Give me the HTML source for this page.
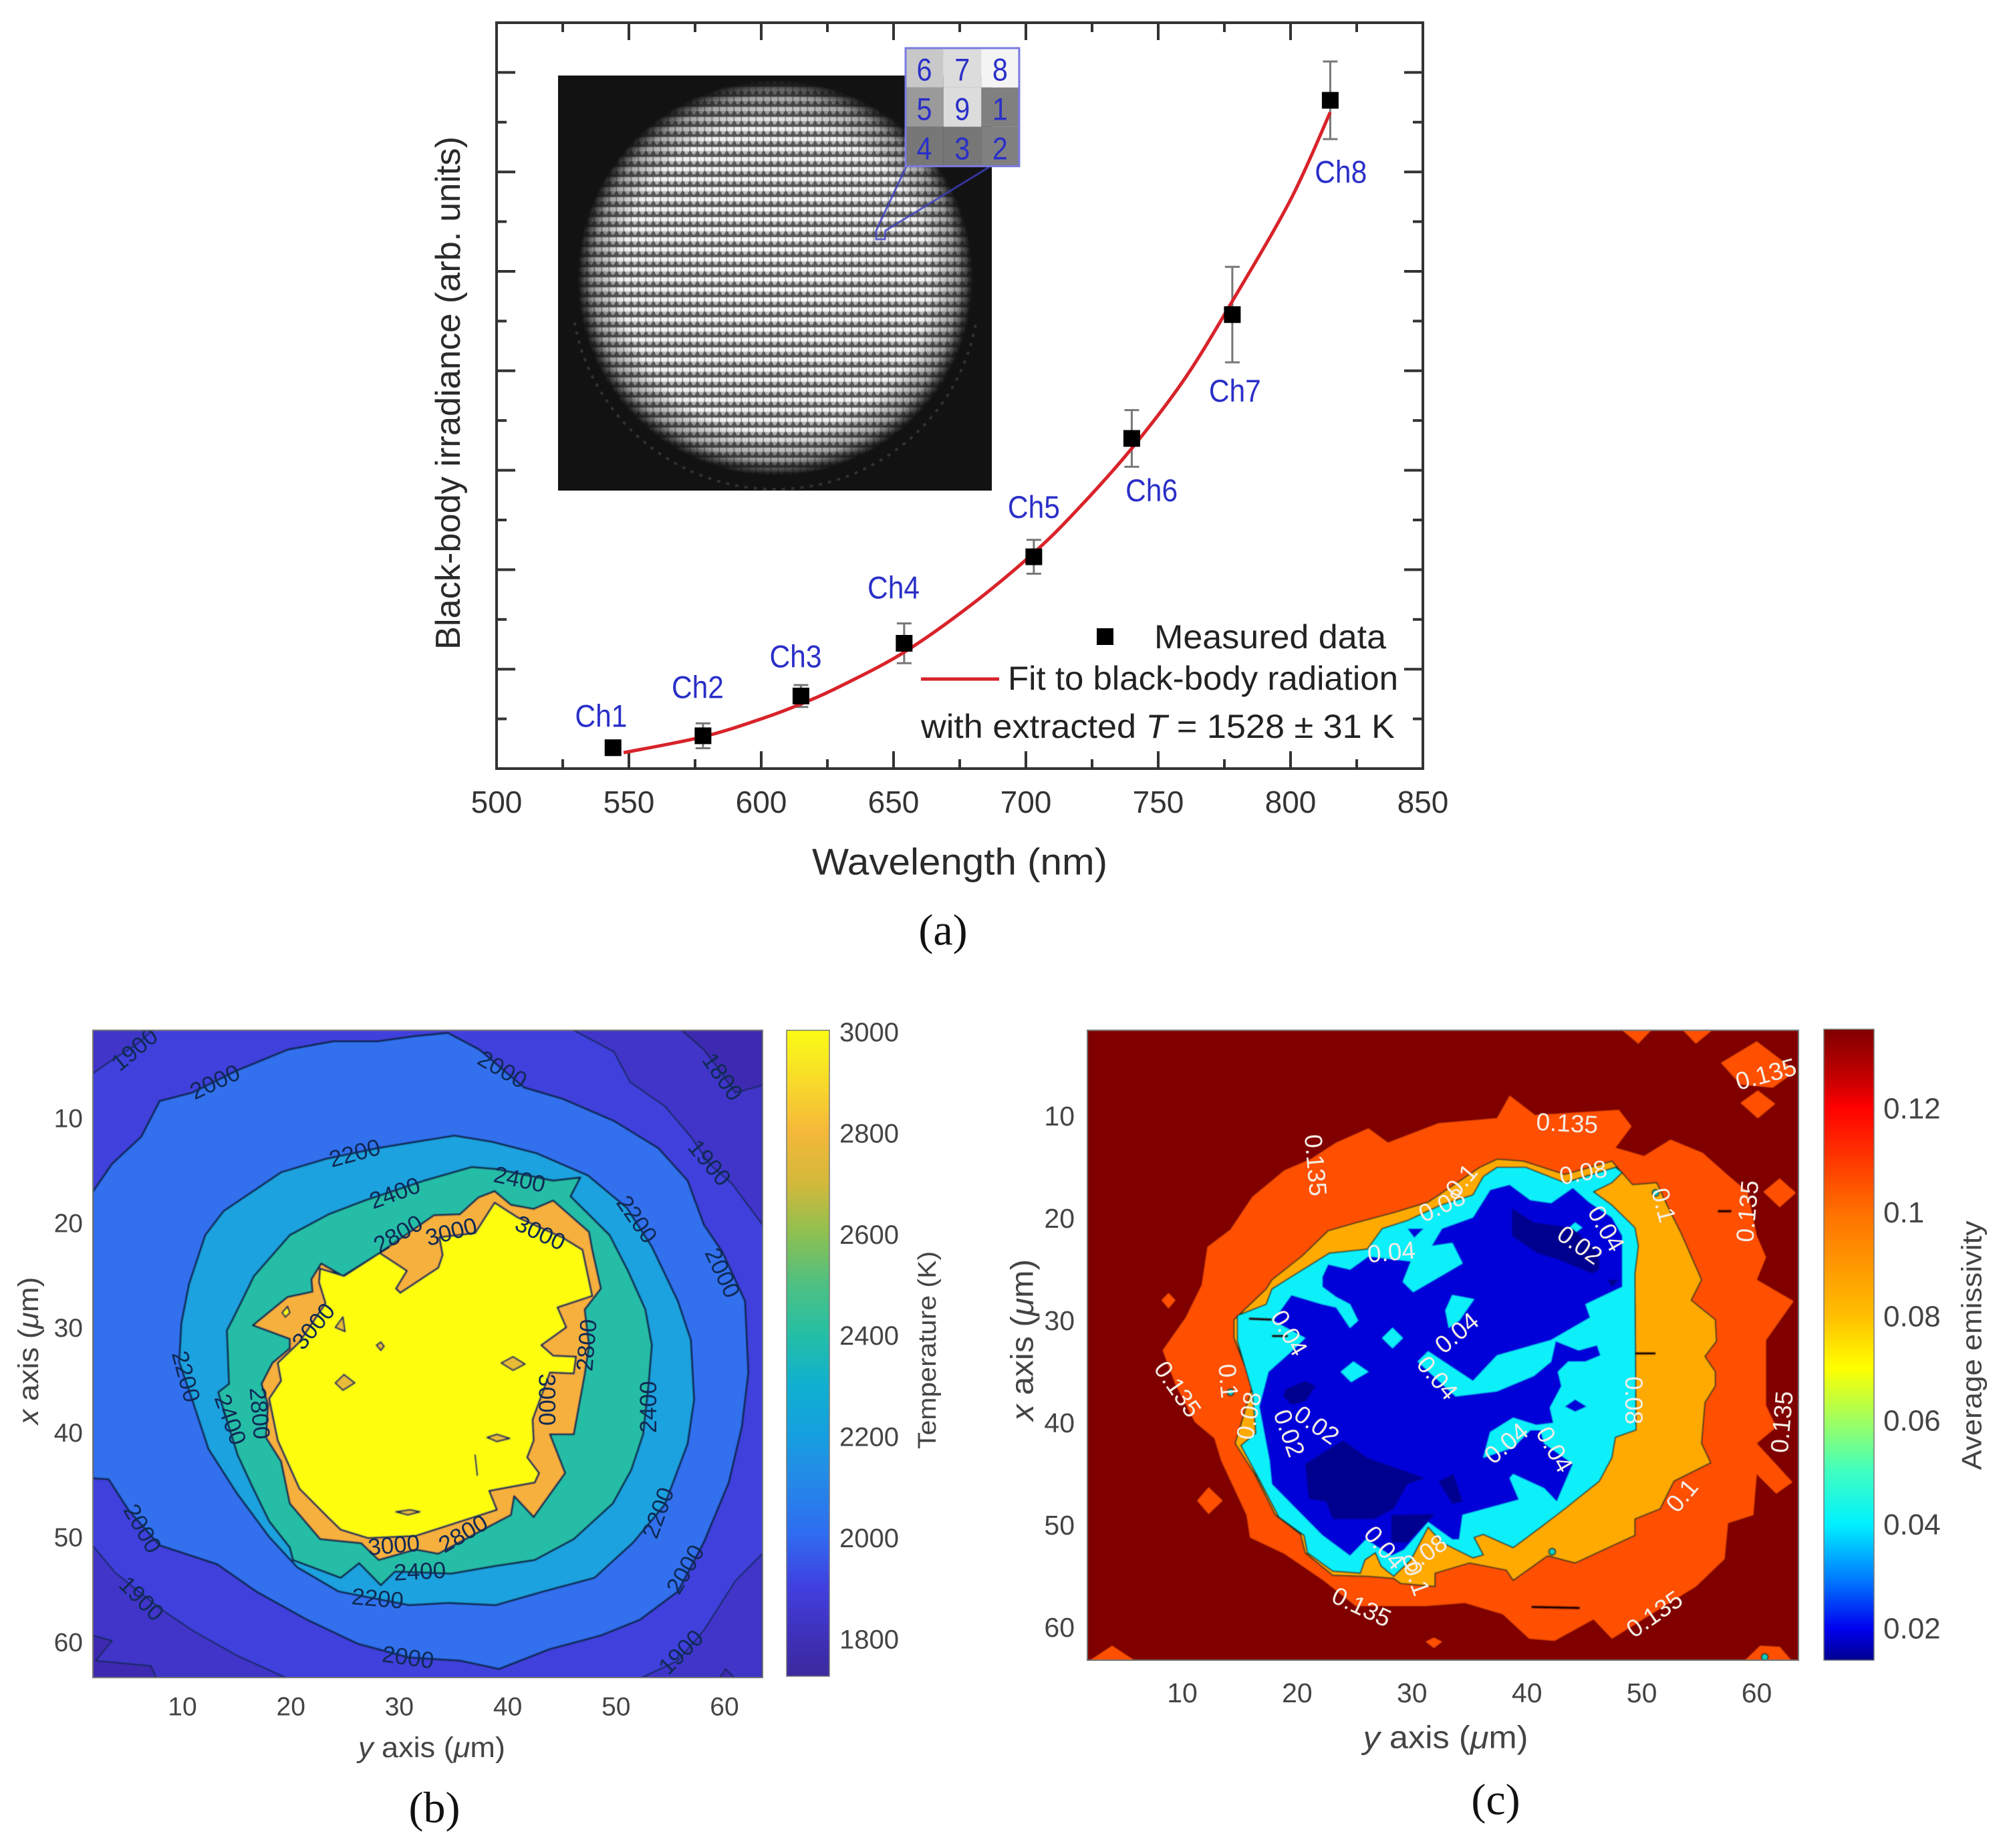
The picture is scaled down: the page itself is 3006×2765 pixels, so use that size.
<!DOCTYPE html>
<html lang="en">
<head>
<meta charset="utf-8">
<title>Black-body irradiance, temperature and emissivity maps</title>
<style>
html,body{margin:0;padding:0;background:#fff;width:3006px;height:2765px;overflow:hidden}
svg{display:block}
text{font-family:"Liberation Sans",Arial,sans-serif}
.serif{font-family:"Liberation Serif",serif}
</style>
</head>
<body>
<svg id="root" xmlns="http://www.w3.org/2000/svg" width="3006" height="2765" viewBox="0 0 3006 2765">
<defs>
  <pattern id="lensletPattern" width="11" height="15" patternUnits="userSpaceOnUse" x="835" y="113">
    <rect width="11" height="15" fill="#5a5a5a"/>
    <rect x="0" y="2" width="11" height="6" fill="#7a7a7a"/>
    <rect x="0" y="2" width="9.5" height="6" fill="#ffffff"/>
    <path d="M1 8 L9.5 8 L6.5 13 L3.5 13 Z" fill="#c0c0c0"/>
  </pattern>
  <filter id="softBlur" x="-5%" y="-5%" width="110%" height="110%"><feGaussianBlur stdDeviation="0.6"/></filter>
  <filter id="lineBlur" x="-2%" y="-2%" width="104%" height="104%"><feGaussianBlur stdDeviation="0.7"/></filter>
  <radialGradient id="spotFade" cx="1160" cy="416" r="296" gradientUnits="userSpaceOnUse">
    <stop offset="0" stop-color="#fff"/>
    <stop offset="0.78" stop-color="#f0f0f0"/>
    <stop offset="0.92" stop-color="#999"/>
    <stop offset="1" stop-color="#000"/>
  </radialGradient>
  <mask id="spotMask" maskUnits="userSpaceOnUse" x="835" y="113" width="649" height="621">
    <rect x="835" y="113" width="649" height="621" fill="url(#spotFade)"/>
  </mask>
  <clipPath id="ringClip"><rect x="835" y="480" width="649" height="254"/></clipPath>
  <clipPath id="clipB"><rect x="139" y="1541.5" width="1002" height="968.5"/></clipPath>
  <clipPath id="clipC"><rect x="1627" y="1541.5" width="1064" height="942.5"/></clipPath>
  <linearGradient id="parulaBar" x1="0" y1="0" x2="0" y2="1">
    <stop offset="0" stop-color="#f9fb15"/><stop offset="0.08" stop-color="#f8da2a"/>
    <stop offset="0.157" stop-color="#f5b83a"/><stop offset="0.235" stop-color="#d4b83a"/>
    <stop offset="0.313" stop-color="#90c050"/><stop offset="0.39" stop-color="#50c080"/>
    <stop offset="0.47" stop-color="#25bfa5"/><stop offset="0.548" stop-color="#10b0cf"/>
    <stop offset="0.626" stop-color="#169fdf"/><stop offset="0.7" stop-color="#2588e8"/>
    <stop offset="0.78" stop-color="#2f6cf0"/><stop offset="0.86" stop-color="#4040e0"/>
    <stop offset="0.94" stop-color="#3f30b8"/><stop offset="1" stop-color="#3b2a9e"/>
  </linearGradient>
  <linearGradient id="jetBar" x1="0" y1="0" x2="0" y2="1">
    <stop offset="0" stop-color="#800000"/><stop offset="0.08" stop-color="#c80000"/>
    <stop offset="0.124" stop-color="#ff0000"/><stop offset="0.29" stop-color="#ff7000"/>
    <stop offset="0.455" stop-color="#ffbf00"/><stop offset="0.537" stop-color="#ffff00"/>
    <stop offset="0.62" stop-color="#a0ff60"/><stop offset="0.7" stop-color="#40ffc0"/>
    <stop offset="0.785" stop-color="#00f0ff"/><stop offset="0.868" stop-color="#0080ff"/>
    <stop offset="0.95" stop-color="#0000f0"/><stop offset="1" stop-color="#000090"/>
  </linearGradient>
</defs>

<g id="panelA">
  <rect x="743" y="34" width="1386" height="1116" fill="#fff"/>
  <g id="aTicks"></g>
  <g>
    <rect x="835" y="113" width="649" height="621" fill="#121212"/>
    <ellipse cx="1160" cy="430" rx="305" ry="302" fill="none" stroke="#777" stroke-width="4" stroke-dasharray="5 9" opacity="0.3" clip-path="url(#ringClip)"/>
    <rect x="835" y="113" width="649" height="621" fill="url(#lensletPattern)" mask="url(#spotMask)" filter="url(#softBlur)"/>
    <path d="M1357 247 L1311 345 L1311 358 L1324 358 L1325 345 L1480 250" fill="none" stroke="#3d3dc0" stroke-width="3" opacity="0.8"/>
    <g id="pixelGrid"></g>
  </g>
  <rect x="743" y="34" width="1386" height="1116" fill="none" stroke="#333" stroke-width="4"/>
  <g id="aMarks"></g>
  <g id="aLabels"></g>
  <text x="1436" y="1289" font-size="56" fill="#2a2a2a" text-anchor="middle" dominant-baseline="central" textLength="442" lengthAdjust="spacingAndGlyphs">Wavelength (nm)</text>
  <text transform="translate(671 588) rotate(-90)" font-size="52" fill="#2a2a2a" text-anchor="middle" dominant-baseline="central" textLength="768" lengthAdjust="spacingAndGlyphs">Black-body irradiance (arb. units)</text>
  <g>
    <rect x="1641" y="940" width="25" height="25" fill="#000"/>
    <text x="1727" y="953" font-size="50" fill="#222" dominant-baseline="central" textLength="347" lengthAdjust="spacingAndGlyphs">Measured data</text>
    <line x1="1378" y1="1016" x2="1495" y2="1016" stroke="#d8232a" stroke-width="5"/>
    <text x="1508" y="1015" font-size="50" fill="#222" dominant-baseline="central" textLength="584" lengthAdjust="spacingAndGlyphs">Fit to black-body radiation</text>
    <text x="1378" y="1087" font-size="50" fill="#222" dominant-baseline="central" textLength="709" lengthAdjust="spacingAndGlyphs">with extracted <tspan font-style="italic">T</tspan> = 1528 ± 31 K</text>
  </g>
  <text class="serif" x="1411" y="1392" font-size="66" fill="#111" text-anchor="middle" dominant-baseline="central">(a)</text>
</g>

<g id="panelB">
  <g clip-path="url(#clipB)"><g id="bFills"></g><g id="bLabels"></g></g>
  <rect x="139" y="1541.5" width="1002" height="968.5" fill="none" stroke="#777" stroke-width="2"/>
  <g id="bTicks"></g>
  <text x="646" y="2615" font-size="43" fill="#444" text-anchor="middle" dominant-baseline="central" textLength="220" lengthAdjust="spacingAndGlyphs"><tspan font-style="italic">y</tspan> axis (<tspan font-style="italic">μ</tspan>m)</text>
  <text transform="translate(43 2021) rotate(-90)" font-size="43" fill="#444" text-anchor="middle" dominant-baseline="central" textLength="221" lengthAdjust="spacingAndGlyphs"><tspan font-style="italic">x</tspan> axis (<tspan font-style="italic">μ</tspan>m)</text>
  <rect x="1177" y="1541.5" width="64" height="966.5" fill="url(#parulaBar)" stroke="#777" stroke-width="1.5"/>
  <g id="bBarLabels"></g>
  <text transform="translate(1388 2020) rotate(-90)" font-size="38" fill="#444" text-anchor="middle" dominant-baseline="central" textLength="296" lengthAdjust="spacingAndGlyphs">Temperature (K)</text>
  <text class="serif" x="650" y="2705" font-size="66" fill="#111" text-anchor="middle" dominant-baseline="central">(b)</text>
</g>

<g id="panelC">
  <g clip-path="url(#clipC)"><g id="cFills"></g><g id="cLabels"></g></g>
  <rect x="1627" y="1541.5" width="1064" height="942.5" fill="none" stroke="#777" stroke-width="2"/>
  <g id="cTicks"></g>
  <text x="2163" y="2599" font-size="47" fill="#444" text-anchor="middle" dominant-baseline="central" textLength="247" lengthAdjust="spacingAndGlyphs"><tspan font-style="italic">y</tspan> axis (<tspan font-style="italic">μ</tspan>m)</text>
  <text transform="translate(1529 2005) rotate(-90)" font-size="47" fill="#444" text-anchor="middle" dominant-baseline="central" textLength="242" lengthAdjust="spacingAndGlyphs"><tspan font-style="italic">x</tspan> axis (<tspan font-style="italic">μ</tspan>m)</text>
  <rect x="2729" y="1540" width="75" height="944" fill="url(#jetBar)" stroke="#777" stroke-width="1.5"/>
  <g id="cBarLabels"></g>
  <text transform="translate(2950 2013) rotate(-90)" font-size="42" fill="#444" text-anchor="middle" dominant-baseline="central" textLength="373" lengthAdjust="spacingAndGlyphs">Average emissivity</text>
  <text class="serif" x="2238" y="2693" font-size="66" fill="#111" text-anchor="middle" dominant-baseline="central">(c)</text>
</g>
</svg>

<script>
/* ---------- Panel (a) data ---------- */
const wavelengths = [544, 578, 615, 654, 703, 740, 778, 815];
const irradiance = [0.21, 0.33, 0.73, 1.26, 2.13, 3.32, 4.565, 6.72];
const irradianceError = [0.05, 0.125, 0.11, 0.2, 0.17, 0.285, 0.48, 0.39];
const channelNames = ['Ch1', 'Ch2', 'Ch3', 'Ch4', 'Ch5', 'Ch6', 'Ch7', 'Ch8'];
const channelLabelWave = [539.5, 576, 613, 650, 703, 747.5, 779, 819];
const channelLabelValue = [0.53, 0.82, 1.13, 1.82, 2.63, 2.8, 3.8, 6.0];
const fitWave = [548, 578, 600, 615, 630, 654, 680, 703, 720, 740, 760, 778, 800, 815];
const fitValue = [0.16, 0.32, 0.5, 0.65, 0.83, 1.17, 1.66, 2.17, 2.62, 3.22, 3.92, 4.7, 5.72, 6.6];
const waveTicks = [500, 550, 600, 650, 700, 750, 800, 850];
const waveMinorTicks = [525, 575, 625, 675, 725, 775, 825];
const irradianceTicks = [1, 2, 3, 4, 5, 6, 7];
const irradianceMinorTicks = [0.5, 1.5, 2.5, 3.5, 4.5, 5.5, 6.5];
const pixelOrder = ['6', '7', '8', '5', '9', '1', '4', '3', '2'];
const pixelGray = [200, 220, 244, 154, 220, 128, 119, 119, 128];

/* ---------- Panel (b) data: [y-axis um, x-axis um] ---------- */
const axisTicksUm = [10, 20, 30, 40, 50, 60];
const tempBarTicks = [3000, 2800, 2600, 2400, 2200, 2000, 1800];
const temp1900Corners = [
  [[1.7,5.7],[3.5,4.4],[5.9,2.8],[7.3,1.5],[1.7,1.5]],
  [[46,1.5],[49.8,3.6],[51.3,6.5],[54.5,8.8],[56.9,11.7],[58.6,14.3],[60.7,16.2],[63.5,20.1],[63.5,1.5]],
  [[1.7,50.7],[3.8,53.3],[7.9,56.7],[10.9,58.8],[15,61.2],[19.7,63.4],[1.7,63.4]],
  [[52.2,63.4],[55.7,61.7],[58.1,58.8],[61,54.1],[63.5,51.5],[63.5,63.4]]
];
const temp1800Corners = [
  [[56,1.5],[58.1,3.4],[59.2,4.9],[61,7.5],[63.5,6.8],[63.5,1.5]],
  [[1.7,59.3],[3.5,59.8],[2,61.7],[7.1,62.2],[7.6,63.4],[1.7,63.4]],
  [[59.5,63.4],[60.1,62.5],[61,63.4]]
];
const temp2000 = [[1.7,17],[3.5,14.3],[6.2,11.7],[7.9,8.3],[10.9,7.5],[15,5.4],[19.7,3.4],[23.9,2.6],[28,2.6],[31.5,2.1],[34.5,1.8],[37.4,3.4],[41.5,7],[45.1,8.1],[49.8,10.2],[53.9,12.8],[56.6,15.9],[58.1,20.1],[59.8,22.7],[61.9,27.4],[62.2,34.2],[61.6,39.4],[60.4,44.7],[58.1,50.4],[55.7,55.1],[52.2,57.8],[48.6,59.3],[43.9,60.6],[39.2,62.5],[35.6,61.7],[30.9,61.4],[26.2,60.1],[21.5,57.8],[16.8,55.1],[13.2,52.5],[7.9,50.7],[5,47.3],[3.2,44.4],[1.7,44.3]];
const temp2200 = [[23.3,13.8],[19.1,15.1],[13.8,18.8],[12.1,21.1],[10.6,25.8],[9.9,29.5],[9.7,33.2],[10.9,36.8],[12.4,41.5],[15,45.7],[18,49.9],[20.6,52.8],[24.4,55.1],[30.9,56.4],[34.5,56.2],[38.9,56.4],[43.3,55.1],[48,53.8],[51.6,50.4],[54.5,46.8],[56.6,41],[57.2,36.8],[56.9,31.1],[55.7,27.4],[53.3,22.2],[51,18.5],[47.4,15.4],[42.7,13.3],[38.6,12.2],[35.1,11.6],[31.5,12.2],[28,12.8]];
const temp2400 = [[26.8,17.8],[23.5,19.1],[19.9,21.1],[16.6,25],[14.7,29],[14.1,30.2],[14.3,35.3],[13.3,36.1],[15.1,42.1],[16.4,45],[18,48.4],[19.9,50.9],[20.2,52.1],[24.6,53.8],[26.3,52.4],[28.3,54.5],[29.6,53.2],[34.8,53.4],[38.7,52.7],[42.5,52.1],[46.1,50.1],[49.7,46.7],[51.4,43.5],[52.5,40.1],[53,35.3],[53.3,31.6],[52.7,28.2],[51.1,24.5],[49.4,21.1],[45.8,17.4],[46.7,15.6],[44.2,15.9],[39,14.8],[36.7,14.6],[32.3,15.9]];
const temp2800 = [[38.8,16.9],[37.3,17.5],[35.6,19.1],[33.2,19.2],[28.2,22.8],[24.8,25],[22.8,23.8],[21.9,25.3],[22,26.5],[19.7,27],[16.5,29.7],[19.9,31],[19.9,31.9],[18.3,33.3],[17.3,35.3],[17.9,37.3],[17.7,40.4],[19.1,42.7],[19.9,46.7],[22.7,50.1],[26.5,50.5],[28.1,52.1],[31.5,51.1],[33.6,51.5],[38.1,49],[40.3,47.8],[40.6,46],[42.4,48],[45.3,43.8],[43.9,40.1],[46.1,40.1],[47.1,34.4],[47.5,31.6],[47.1,28.2],[48.6,26.2],[47.8,22.5],[47.5,20.8],[44.2,17.8],[42.4,18.6],[40.3,18.2]];
const temp3000 = [[38.8,18],[37,20.9],[33.7,21.3],[34,23],[33.6,24.2],[30.1,26.6],[29.7,26.2],[30.7,24.5],[28.2,22.8],[24.9,25],[22.7,24.3],[22.6,25.6],[23.2,27.6],[20.8,31.3],[18.8,33.3],[19.1,35],[18,36.7],[18.8,40.7],[20.8,45.3],[23.5,48.1],[24.6,49.2],[27.1,50],[31.5,49.8],[39,47.3],[38.3,45.5],[42.5,44.7],[42.9,43.8],[41.8,42.3],[42.4,40.7],[42.3,38.7],[43.9,34.2],[46.1,34.3],[46.3,32.7],[44.2,32.6],[43.1,31.6],[45.4,29.9],[44.6,28],[47.8,26.9],[46.9,22.5],[45,21.3],[40.9,19.4]];
const temp2800Islands = [
  [[39.4,33.3],[40.5,32.7],[41.6,33.4],[40.5,34]],
  [[24.1,35.2],[24.9,34.4],[25.9,35.2],[24.8,35.9]],
  [[38.1,40.4],[39,40.1],[40.2,40.5],[39,40.8]],
  [[29.7,47.5],[31,47.3],[31.9,47.5],[30.8,47.8]],
  [[24.1,29.9],[24.8,28.9],[25,30.3]],
  [[27.9,31.6],[28.3,31.3],[28.6,31.7],[28.3,32.1]],
  [[37,42.1],[37.2,44],[37,42.1]]
];
const temp3000Islands = [[[19.2,28.5],[19.7,27.9],[19.9,28.5],[19.5,28.9]]];
const tempContourLabels = [
  ['1900',5.6,3.4,-40],['2000',13,6.5,-25],['2000',39.5,5.3,30],['1800',59.8,6,55],['1900',58.6,14.2,50],
  ['2200',25.9,13.3,-15],['2400',29.6,17.1,-20],['2400',41.1,15.8,12],['2200',51.9,19.6,55],['2000',59.8,24.7,65],
  ['2800',29.9,21,-30],['3000',34.8,20.8,-15],['3000',43,20.9,25],['3000',22.1,29.8,-50],['2800',47.3,31.6,-85],
  ['3000',43.6,36.8,90],['2200',10.3,34.6,75],['2400',14.4,38.7,70],['2800',17.1,38.1,85],['2400',53,37.5,-90],
  ['2200',53.9,47.6,-70],['2000',56.4,53,-60],['1900',56,60.9,-45],['2000',30.8,61.4,8],['2200',28,55.8,5],
  ['2400',31.9,53.2,-3],['3000',29.5,50.7,-5],['2800',35.9,49.6,-30],['2000',6.3,49.1,60],['1900',6.2,55.8,45]
];

/* ---------- Panel (c) data: [y-axis um, x-axis um] ---------- */
const emisBarTicks = ['0.12', '0.1', '0.08', '0.06', '0.04', '0.02'];
const emis0135 = [[38.5,8],[40.7,9.9],[48,9.4],[49.1,11],[47.7,13.1],[50.2,13.9],[52.5,12.3],[55.3,13.6],[57.5,15.8],[59.2,17.4],[60,21.7],[60.8,23.8],[60,26],[63.2,28.1],[62,30],[60.8,31.9],[60.8,38.3],[61.7,40.4],[60,42],[63.1,45.8],[61.7,46.9],[60,45],[59.7,49],[57.5,49.8],[57.2,53.3],[54.7,56],[50.8,58.7],[47.4,61.1],[45.8,59.2],[42.4,61.3],[40.2,61.1],[37.9,58.7],[34.6,57.6],[31.2,57.9],[25.1,57.9],[22.3,55.4],[18.9,52.8],[15.9,51.2],[15.6,49],[13.4,43.7],[12.8,41.5],[11.1,39.9],[9.4,36.2],[8.3,32.9],[10.3,29.7],[11.7,26.5],[12.2,22.8],[14.2,21.1],[16.1,17.9],[18.9,15.3],[21.2,14.2],[23.4,12.6],[26.2,11.2],[27.9,12.6],[32.3,10.7],[37.4,10.2]];
const emis0135Islands = [
  [[48.3,1.6],[49.7,2.9],[50.8,1.6]],
  [[53.6,1.6],[54.7,2.9],[56.1,1.6]],
  [[56.9,4.8],[60,2.7],[63.4,5.6],[61.4,7.2],[58.6,6.9]],
  [[58.6,8.7],[60.1,7.5],[61.6,8.8],[60.1,10.2]],
  [[60.6,17.4],[62,16.1],[63.4,17.5],[62,18.9]],
  [[8.2,28],[8.8,27.3],[9.4,28],[8.8,28.8]],
  [[11.3,47.6],[12.3,46.3],[13.5,47.6],[12.3,48.9]],
  [[2,63.2],[3.9,61.8],[5.8,63.2]],
  [[31.2,61.4],[31.9,61],[32.6,61.4],[31.9,62]],
  [[59,63.2],[60.3,61.8],[62,61.9],[63,63.2]]
];
const emis01 = [[14.5,29.9],[17.3,26.9],[17.8,26],[20.4,23.7],[22.7,21.2],[25.2,20.4],[28.5,19.4],[31.4,18.4],[35.9,15],[37.4,14.2],[39.7,14.4],[43.3,15.7],[47.4,14.4],[49.2,16.7],[51.3,16.5],[52.2,18.7],[53.4,21.4],[55.2,26],[54.3,28],[56.4,29.9],[56.5,32],[55.5,33.5],[56.4,35],[56.4,36.4],[55.5,38],[55.2,42],[56,43.9],[52.8,45.7],[51.6,48.4],[49.4,49.4],[49.4,51],[46.7,52.4],[44.2,53.7],[41.8,53],[38.8,55.4],[38.2,54.4],[35,53.7],[32,54.7],[32,56],[29,55.7],[28.4,55.2],[26.1,55],[23.1,54.9],[20.7,52.7],[20.3,50.9],[18.1,49],[16.3,45],[14.6,42],[16.1,36.4],[14.5,31.7]];
const emis008 = [[14.8,29.5],[17.3,28.4],[17.8,26.9],[19.5,25.7],[22.8,23.4],[26.1,23],[27.4,21],[29.6,20.2],[32.5,18.7],[35.3,17.7],[36.2,15.9],[37.4,15],[39.9,15],[43.3,16.5],[47.7,15],[48.3,15.5],[47.4,16.5],[45.8,17.4],[47.4,18.7],[49.4,20.9],[49.7,22.7],[49.4,25.4],[49.5,40.7],[47.7,41.4],[47.4,43.4],[46.3,45.7],[43.3,48.4],[41.2,50.2],[38.8,52.2],[36.2,50.9],[35.4,51.2],[36.2,52.9],[35.3,53.2],[32.6,51.7],[31.4,50.2],[29.9,53.4],[28.4,55],[27.3,54],[26.8,52.7],[25.9,53.4],[25.5,54.7],[23.1,54.5],[20.9,52.7],[20.6,51],[18.4,49.2],[16.4,44.9],[15.1,42.2],[16.4,41],[16.1,37],[14.8,32]];
const emis004 = [[17.6,43.7],[16.7,38.4],[17.5,35],[19.5,33],[20.7,31.7],[17.9,30],[19.5,27.5],[22.2,28.4],[23.4,28.7],[24.6,30.7],[25.3,30],[24.6,28.4],[23.4,27.7],[22.2,26.7],[22.2,25.7],[22.7,24.5],[24.6,25],[26.2,23.7],[29.9,24.2],[29.2,26.2],[30.1,27.2],[34.4,24.4],[33.5,22.4],[31.7,22.7],[32.6,21],[35.3,19.9],[36.8,17.2],[38.5,16.7],[40.3,18.2],[42.1,18.5],[44,17],[45.4,18.4],[47.4,19.9],[48.3,21.7],[48.3,24.4],[48.3,26.7],[45.1,28.4],[45.5,29.7],[42.1,31.9],[37.4,33.4],[35.3,35.9],[31.4,33],[30.5,34],[33.8,37.4],[37.4,36.9],[40.6,35.4],[42.1,34],[42.5,32],[44.5,32.9],[46.1,32.4],[46.4,33.4],[45.1,34],[43.6,34],[42.7,35],[43,36.4],[42,38.5],[42.3,40],[40.8,40.2],[38.8,39.5],[36.8,40.9],[36.2,43.4],[38.8,42.4],[40.3,40.7],[41.2,40.7],[41.5,42],[44,44],[42.6,47.7],[41.5,46.4],[38.8,45],[38.5,45.4],[39.3,47.5],[34.4,49],[34.1,51.4],[33.5,51.4],[31.4,49.7],[29.3,52.4],[28.2,53],[26,51.4],[24.6,53],[22.2,51],[17.8,46]];
const emisCyanIslands = [
  [[27.4,31.7],[28.3,30.7],[29.2,31.7],[28.3,32.7]],
  [[23.8,35],[24.9,34],[26.2,35],[24.7,36]],
  [[33.5,27.5],[35.4,27.9],[34.1,30],[33.2,30.7],[32.9,29]],
  [[43.7,20.9],[44.2,20.4],[44.8,20.9],[44.2,21.4]]
];
const emisBlueIslands = [
  [[43.3,38.4],[44.2,37.7],[45.2,38.4],[44.2,38.9]],
  [[29.6,21],[31,21],[30.2,21.9]]
];
const emisNavy = [
  [[38.7,19],[40.6,20.4],[42.7,20.7],[44,21],[46.3,23.4],[46.3,25],[45.7,25.4],[42.7,24],[40.9,23.4],[38.7,21.7]],
  [[19,36.7],[20.7,35.9],[21.6,36.4],[20.7,37.9],[19.5,38.2],[18.8,37.4]],
  [[20.7,44],[24,41.7],[26.1,43.4],[31.1,45.4],[29.6,46],[28.4,48.4],[26.7,49.4],[23.1,49.4],[22.5,47.7],[21,47.4]],
  [[32.3,45.7],[33.6,45],[34.4,47.7],[33.5,47.9]],
  [[28.2,49],[32,48.9],[29.6,51.7],[28.2,51.7]],
  [[47,26],[48,26],[47.4,26.7]]
];
const emisSlivers = [
  [[40.4,58],[44.6,58.1]], [[56.6,19.3],[57.8,19.3]], [[49.4,33.2],[51.2,33.2]],
  [[15.8,29.8],[17.8,29.9]], [[17.8,31.5],[19.2,31.5]]
];
const emisSpots = [[51.2,17.5],[14.2,37],[42.2,52.6],[60.7,62.9]];
const emisContourLabels = [
  ['0.135',60.8,5.9,-15],['0.135',43.5,10.7,3],['0.135',21.6,14.8,85],['0.1',34.3,16.3,-50],['0.08',44.9,15.5,-10],
  ['0.135',59.2,19.3,-85],['0.08',32.6,18.7,-25],['0.04',28.2,23.3,-5],['0.04',46.9,21,60],['0.02',44.6,22.6,35],
  ['0.1',51.9,18.7,75],['0.04',33.9,31.2,-40],['0.04',19.3,31.2,60],['0.135',9.6,36.7,55],['0.04',32.2,35.6,50],
  ['0.1',14,35.9,85],['0.08',15.8,39.3,-80],['0.02',21.7,40.2,35],['0.02',19.3,41,70],['0.08',49.3,37.8,90],
  ['0.04',38.2,42,-40],['0.04',42.4,42.6,60],['0.135',62.2,39.9,-85],['0.1',53.5,47.1,-50],['0.04',27.6,52.2,50],
  ['0.08',31.1,52.8,-35],['0.1',30.4,55.2,70],['0.135',25.6,58,25],['0.135',51.1,58.7,-35]
];

/* ---------- Helpers and axis functions ---------- */
const NS = 'http://www.w3.org/2000/svg';
function make(tag, attrs, parent) {
  const el = document.createElementNS(NS, tag);
  Object.keys(attrs).forEach(function (k) { el.setAttribute(k, attrs[k]); });
  parent.appendChild(el);
  return el;
}
const byId = function (id) { return document.getElementById(id); };
const xA = function (w) { return 743 + (w - 500) * 3.96; };
const yA = function (v) { return 1150 - v * 148.8; };
const xB = function (u) { return 273 + (u - 10) * 16.22; };
const yB = function (v) { return 1674 + (v - 10) * 15.68; };
const xC = function (u) { return 1769 + (u - 10) * 17.19; };
const yC = function (v) { return 1670 + (v - 10) * 15.3; };
function polyD(points, fx, fy) {
  return points.map(function (p, i) {
    return (i ? 'L' : 'M') + fx(p[0]).toFixed(1) + ' ' + fy(p[1]).toFixed(1);
  }).join(' ') + ' Z';
}

/* ---------- Panel (a) ---------- */
(function () {
  const ticks = byId('aTicks');
  const tick = 'stroke:#333;stroke-width:4';
  function xTick(w, len) {
    [[1150, 1150 - len], [34, 34 + len]].forEach(function (p) {
      const el = make('line', { x1: xA(w), x2: xA(w), y1: p[0], y2: p[1], style: tick }, ticks);
      
      
    });
  }
  function yTick(v, len) {
    [[743, 743 + len], [2129, 2129 - len]].forEach(function (p) {
      const el = make('line', { y1: yA(v), y2: yA(v), x1: p[0], x2: p[1], style: tick }, ticks);
      
      
    });
  }
  waveTicks.forEach(function (w) { xTick(w, 26); });
  waveMinorTicks.forEach(function (w) { xTick(w, 14); });
  irradianceTicks.forEach(function (v) { yTick(v, 28); });
  irradianceMinorTicks.forEach(function (v) { yTick(v, 15); });

  const grid = byId('pixelGrid');
  pixelOrder.forEach(function (d, i) {
    const col = i % 3, row = Math.floor(i / 3);
    const x = 1355 + col * 56.7, y = 72 + row * 58.9;
    const g = pixelGray[i];
    const cell = make('rect', { x: x, y: y, width: 56.7, height: 58.9, fill: 'rgb(' + g + ',' + g + ',' + g + ')' }, grid);
    
    
    const t = make('text', { x: x + 28, y: y + 32, 'font-size': 47, fill: '#2a2fc8', 'text-anchor': 'middle', 'dominant-baseline': 'central', textLength: 23, lengthAdjust: 'spacingAndGlyphs' }, grid);
    t.textContent = d;
    
    
  });
  const border = make('rect', { x: 1355, y: 72, width: 170, height: 176.7, fill: 'none', stroke: '#7a7ae0', 'stroke-width': 3 }, grid);
  
  

  const marks = byId('aMarks');
  let d = 'M' + xA(fitWave[0]) + ' ' + yA(fitValue[0]);
  for (let i = 0; i < fitWave.length - 1; i++) {
    const a = Math.max(i - 1, 0), b = i, c = i + 1, e = Math.min(i + 2, fitWave.length - 1);
    const c1x = xA(fitWave[b]) + (xA(fitWave[c]) - xA(fitWave[a])) / 6;
    const c1y = yA(fitValue[b]) + (yA(fitValue[c]) - yA(fitValue[a])) / 6;
    const c2x = xA(fitWave[c]) - (xA(fitWave[e]) - xA(fitWave[b])) / 6;
    const c2y = yA(fitValue[c]) - (yA(fitValue[e]) - yA(fitValue[b])) / 6;
    d += ' C' + c1x.toFixed(1) + ' ' + c1y.toFixed(1) + ' ' + c2x.toFixed(1) + ' ' + c2y.toFixed(1) + ' ' + xA(fitWave[c]).toFixed(1) + ' ' + yA(fitValue[c]).toFixed(1);
  }
  wavelengths.forEach(function (w, i) {
    const x = xA(w), hi = yA(irradiance[i] + irradianceError[i]), lo = yA(irradiance[i] - irradianceError[i]);
    const eb = make('path', { d: 'M' + x + ' ' + hi + ' V' + lo + ' M' + (x - 11) + ' ' + hi + ' H' + (x + 11) + ' M' + (x - 11) + ' ' + lo + ' H' + (x + 11), fill: 'none', stroke: '#777', 'stroke-width': 3 }, marks);
    
    
  });
  const fit = make('path', { d: d, fill: 'none', stroke: '#d8232a', 'stroke-width': 5 }, marks);
  
  
  wavelengths.forEach(function (w, i) {
    const m = make('rect', { x: xA(w) - 12.5, y: yA(irradiance[i]) - 12.5, width: 25, height: 25, fill: '#000' }, marks);
    
    
    const t = make('text', { x: xA(channelLabelWave[i]), y: yA(channelLabelValue[i]), 'font-size': 47, fill: '#2a2fc8', 'text-anchor': 'middle', 'dominant-baseline': 'central', textLength: 78, lengthAdjust: 'spacingAndGlyphs' }, marks);
    t.textContent = channelNames[i];
    
    
  });
  const labels = byId('aLabels');
  waveTicks.forEach(function (w) {
    const t = make('text', { x: xA(w), y: 1200, 'font-size': 46, fill: '#333', 'text-anchor': 'middle', 'dominant-baseline': 'central' }, labels);
    t.textContent = w;
    
    
  });
})();

/* ---------- Shared contour drawing ---------- */
function fillRegion(parent, points, fx, fy, fill, stroke, sw, name) {
  const p = make('path', { d: polyD(points, fx, fy), fill: fill, stroke: stroke, 'stroke-width': sw, 'stroke-linejoin': 'round' }, parent);
  
  
  return p;
}
function axisLabels(parent, fx, fy, xLabelY, yLabelX, size) {
  axisTicksUm.forEach(function (t) {
    const a = make('text', { x: fx(t), y: xLabelY, 'font-size': size, fill: '#444', 'text-anchor': 'middle', 'dominant-baseline': 'central' }, parent);
    a.textContent = t;
    
    
    const b = make('text', { x: yLabelX, y: fy(t), 'font-size': size, fill: '#444', 'text-anchor': 'end', 'dominant-baseline': 'central' }, parent);
    b.textContent = t;
    
    
  });
}
function contourLabels(parent, list, fx, fy, size, color) {
  list.forEach(function (l) {
    const t = make('text', { transform: 'translate(' + fx(l[1]).toFixed(1) + ' ' + fy(l[2]).toFixed(1) + ') rotate(' + l[3] + ')', 'font-size': size, fill: color, 'text-anchor': 'middle', 'dominant-baseline': 'central' }, parent);
    t.textContent = l[0];
    
    
  });
}

/* ---------- Panel (b) ---------- */
(function () {
  const g = byId('bFills');
  const line = '#10254f';
  const base = make('rect', { x: 139, y: 1541.5, width: 1002, height: 968.5, fill: '#4140dc' }, g);
  
  
  temp1900Corners.forEach(function (c) { fillRegion(g, c, xB, yB, '#4136c8', line, 2, 'temperature-corner-below-1900'); });
  temp1800Corners.forEach(function (c) { fillRegion(g, c, xB, yB, '#3c2cb0', line, 2, 'temperature-corner-below-1800'); });
  fillRegion(g, temp2000, xB, yB, '#3170ee', line, 3, 'temperature-contour-2000');
  fillRegion(g, temp2200, xB, yB, '#1ea2de', line, 3, 'temperature-contour-2200');
  fillRegion(g, temp2400, xB, yB, '#27bda6', line, 3, 'temperature-contour-2400');
  fillRegion(g, temp2800, xB, yB, '#f6b03c', line, 3, 'temperature-contour-2800');
  fillRegion(g, temp3000, xB, yB, '#fdfd10', line, 3, 'temperature-contour-3000');
  temp2800Islands.forEach(function (c) { fillRegion(g, c, xB, yB, '#e8bb38', line, 2.5, 'temperature-island-2800'); });
  temp3000Islands.forEach(function (c) { fillRegion(g, c, xB, yB, '#fdfd10', line, 2.5, 'temperature-island-3000'); });
  g.setAttribute('filter', 'url(#lineBlur)');
  contourLabels(byId('bLabels'), tempContourLabels, xB, yB, 35, '#0f2a55');
  axisLabels(byId('bTicks'), xB, yB, 2554, 124, 39);
  const barY = function (t) { return 1545 + (3000 - t) * 0.757; };
  tempBarTicks.forEach(function (t) {
    const el = make('text', { x: 1256, y: barY(t), 'font-size': 40, fill: '#444', 'dominant-baseline': 'central' }, byId('bBarLabels'));
    el.textContent = t;
    
    
  });
})();

/* ---------- Panel (c) ---------- */
(function () {
  const g = byId('cFills');
  const line = '#12301a';
  const base = make('rect', { x: 1627, y: 1541.5, width: 1064, height: 942.5, fill: '#800000' }, g);
  
  
  fillRegion(g, emis0135, xC, yC, '#ff5000', 'none', 0, 'emissivity-contour-0-135');
  emis0135Islands.forEach(function (c) { fillRegion(g, c, xC, yC, '#ff5000', 'none', 0, 'emissivity-island-0-135'); });
  fillRegion(g, emis01, xC, yC, '#ffaa00', line, 2, 'emissivity-contour-0-1');
  fillRegion(g, emis008, xC, yC, '#0ff0fa', line, 2, 'emissivity-contour-0-08');
  fillRegion(g, emis004, xC, yC, '#0000d8', 'none', 0, 'emissivity-contour-0-04');
  emisCyanIslands.forEach(function (c) { fillRegion(g, c, xC, yC, '#0ff0fa', 'none', 0, 'emissivity-island-cyan'); });
  emisBlueIslands.forEach(function (c) { fillRegion(g, c, xC, yC, '#0000d8', 'none', 0, 'emissivity-island-blue'); });
  emisNavy.forEach(function (c) { fillRegion(g, c, xC, yC, '#00008f', 'none', 0, 'emissivity-contour-0-02'); });
  emisSlivers.forEach(function (s) {
    const el = make('line', { x1: xC(s[0][0]), y1: yC(s[0][1]), x2: xC(s[1][0]), y2: yC(s[1][1]), stroke: '#1a0000', 'stroke-width': 4 }, g);
    
    
  });
  emisSpots.forEach(function (s) {
    const el = make('circle', { cx: xC(s[0]), cy: yC(s[1]), r: 5, fill: '#10d0c0', stroke: line, 'stroke-width': 2 }, g);
    
    
  });
  g.setAttribute('filter', 'url(#lineBlur)');
  contourLabels(byId('cLabels'), emisContourLabels, xC, yC, 37, '#f4ece4');
  axisLabels(byId('cTicks'), xC, yC, 2533, 1608, 41);
  const barY = function (t) { return 2437 - (t - 0.02) * 7780; };
  emisBarTicks.forEach(function (t) {
    const el = make('text', { x: 2818, y: barY(parseFloat(t)), 'font-size': 44, fill: '#444', 'dominant-baseline': 'central' }, byId('cBarLabels'));
    el.textContent = t;
    
    
  });
})();
</script>
</body>
</html>
